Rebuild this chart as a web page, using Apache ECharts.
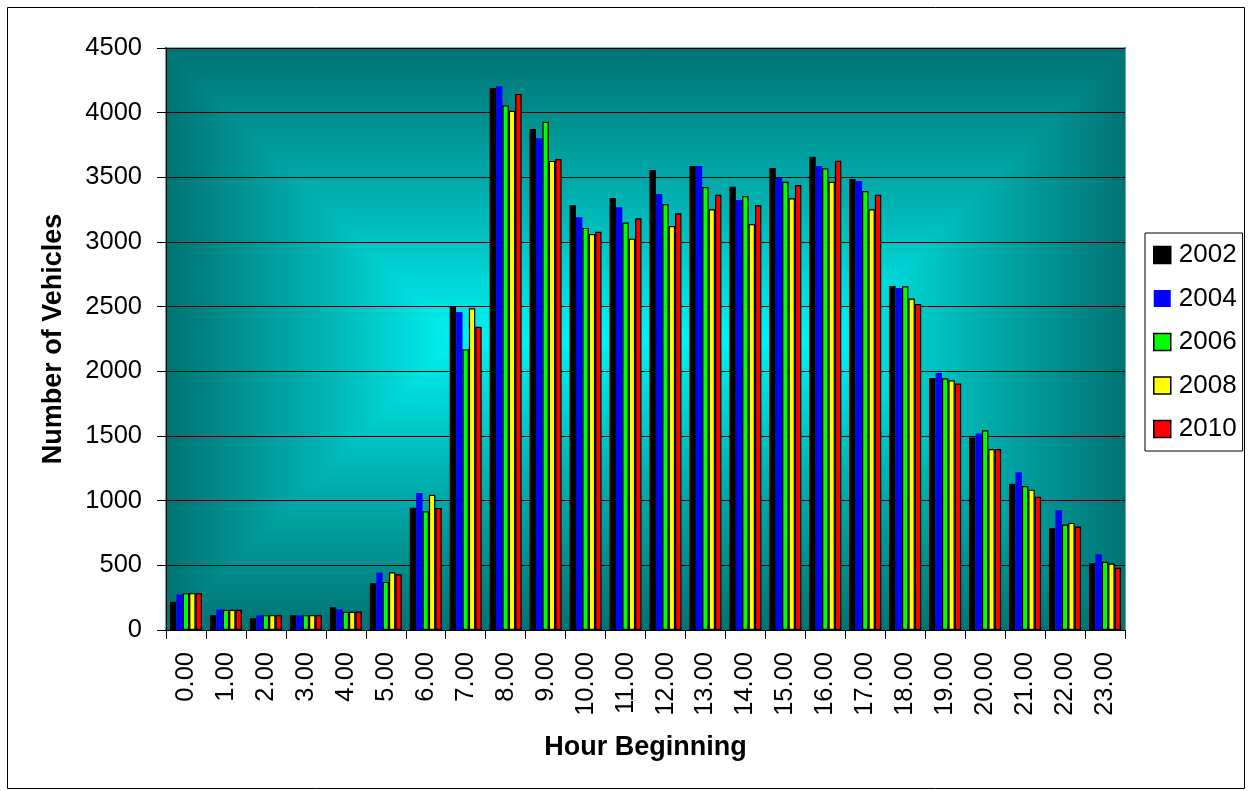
<!DOCTYPE html>
<html><head><meta charset="utf-8">
<script src="https://cdn.jsdelivr.net/npm/echarts@6/dist/echarts.min.js"></script>
<style>html,body{margin:0;padding:0;background:#fff}#c{width:1248px;height:791px}</style>
</head><body><div id="c"></div>
<script>
const hours = ['0.00','1.00','2.00','3.00','4.00','5.00','6.00','7.00','8.00','9.00','10.00','11.00','12.00','13.00','14.00','15.00','16.00','17.00','18.00','19.00','20.00','21.00','22.00','23.00'];
const y2002 = [218,115,90,115,175,362,946,2505,4190,3873,3284,3340,3557,3588,3428,3572,3660,3487,2660,1949,1489,1131,787,517];
const y2004 = [275,159,113,113,160,444,1059,2458,4205,3802,3192,3269,3371,3588,3325,3495,3588,3472,2645,1987,1519,1219,926,586];
const y2006 = [285,157,115,115,141,372,918,2170,4057,3929,3109,3151,3294,3425,3356,3466,3570,3394,2658,1946,1545,1113,815,527];
const y2008 = [285,157,115,115,141,446,1046,2487,4015,3627,3062,3026,3124,3253,3139,3338,3466,3253,2563,1931,1399,1085,828,514];
const y2010 = [285,157,115,115,143,431,944,2345,4145,3642,3079,3183,3222,3366,3284,3441,3629,3366,2520,1905,1399,1031,800,481];
const yearNames = ['2002','2004','2006','2008','2010'];
const yearColors = ['#000000','#0000FF','#00FF00','#FFFF00','#FF0000'];
const yearData = [y2002,y2004,y2006,y2008,y2010];

// plot-area layout
const G = {left:166, top:48, right:123, bottom:161};
const W = 1248, H = 791;
const L = G.left, T = G.top, R = W - G.right, B = H - G.bottom;
const ph = B - T, half = ph / 2, cy = T + half;
const EDGE = '#007373', MID = '#00F2F2';
function lin(x,y,x2,y2){return {type:'linear',x:x,y:y,x2:x2,y2:y2,global:true,
  colorStops:[{offset:0,color:EDGE},{offset:0.55,color:'#00B4B4'},{offset:1,color:MID}]};}
function tri(points, grad){
  return {type:'polygon',shape:{points:points},style:{fill:grad,stroke:grad,lineWidth:1.2},z:-5,silent:true};
}
const bg = [
  {type:'rect',shape:{x:L,y:T,width:R-L,height:B-T},style:{fill:'#00A6A6'},z:-6,silent:true},
  tri([[L,T],[R,T],[R-half,cy],[L+half,cy]], lin(0,T,0,cy)),
  tri([[L,B],[R,B],[R-half,cy],[L+half,cy]], lin(0,B,0,cy)),
  tri([[L,T],[L+half,cy],[L,B]], lin(L,0,L+half,0)),
  tri([[R,T],[R-half,cy],[R,B]], lin(R,0,R-half,0)),
  {type:'rect',shape:{x:7.5,y:7.5,width:1237,height:781},style:{fill:'none',stroke:'#000',lineWidth:1},z:-7,silent:true}
];

const chart = echarts.init(document.getElementById('c'));
const font = 'Liberation Sans, Arial, sans-serif';
chart.setOption({
  animation:false,
  backgroundColor:'#ffffff',
  textStyle:{fontFamily:font},
  graphic:bg,
  grid:{left:G.left,top:G.top,right:G.right,bottom:G.bottom,show:false},
  legend:{orient:'vertical',left:1145,top:233,itemWidth:17,itemHeight:17,itemGap:17.5,
    padding:[9,6,9,8],borderColor:'#000',borderWidth:1,backgroundColor:'#fff',
    textStyle:{fontSize:26,color:'#000',fontFamily:font,padding:[0,0,0,3]},
    data:yearNames.map((n,i)=>({name:n,icon:'rect',itemStyle:{borderColor:i===1?'transparent':'#000',borderWidth:i===1?0:1.5}}))},
  xAxis:{type:'category',data:hours,
    name:'Hour Beginning',nameLocation:'middle',nameGap:104,
    nameTextStyle:{fontSize:27,fontWeight:'bold',color:'#000',fontFamily:font},
    axisLine:{lineStyle:{color:'#000',width:1}},
    axisTick:{show:true,length:9,lineStyle:{color:'#000'}},
    axisLabel:{rotate:90,fontSize:25.5,color:'#000',margin:22,fontFamily:font}},
  yAxis:{type:'value',min:0,max:4500,interval:500,
    name:'Number of Vehicles',nameLocation:'middle',nameGap:99,nameRotate:90,
    nameTextStyle:{fontSize:27,fontWeight:'bold',color:'#000',fontFamily:font},
    axisLine:{show:true,lineStyle:{color:'#000',width:1}},
    axisTick:{show:true,length:9,lineStyle:{color:'#000'}},
    axisLabel:{fontSize:25.5,color:'#000',margin:24,fontFamily:font,formatter:v=>String(v)},
    splitLine:{lineStyle:{color:'#000',width:1}}},
  series:yearData.map((d,i)=>({name:yearNames[i],type:'bar',data:d,
    barGap:'0%',barCategoryGap:'20%',
    itemStyle:{color:yearColors[i],borderColor:i===1?'transparent':'#000',borderWidth:i===1?0:1.2}}))
});
</script></body></html>
